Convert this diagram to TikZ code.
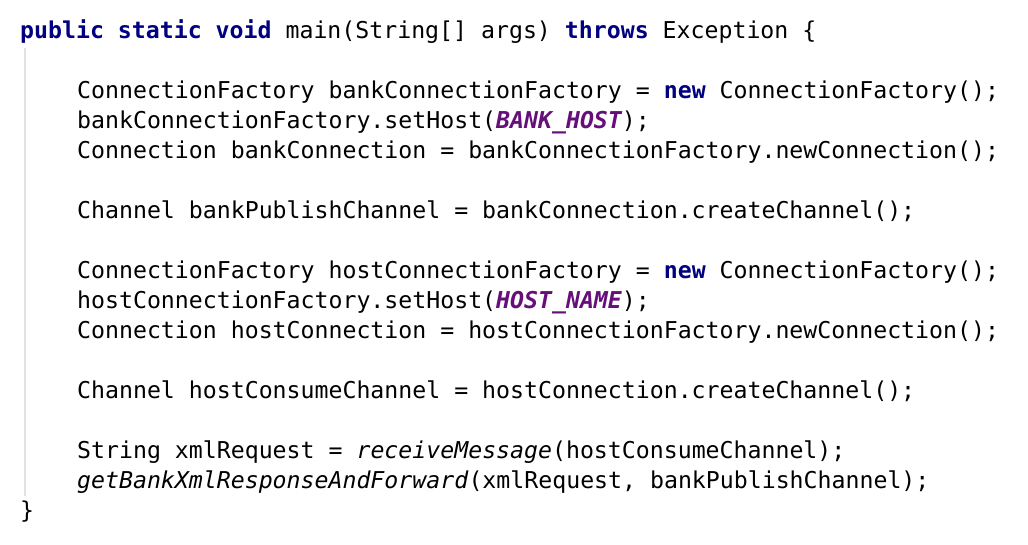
\documentclass[tikz,border=0pt]{standalone}
\usepackage{fontspec}
\setmonofont{DejaVu Sans Mono}
\definecolor{kwc}{RGB}{0,0,128}
\definecolor{cstc}{RGB}{102,14,122}
\definecolor{guidec}{RGB}{226,226,226}
\newcommand{\kwd}[1]{\textcolor{kwc}{\bfseries #1}}
\newcommand{\cst}[1]{\textcolor{cstc}{\bfseries\itshape #1}}
\newcommand{\mth}[1]{\textit{#1}}
\tikzset{code/.style={anchor=base west, inner sep=0pt, font=\ttfamily\fontsize{23.2}{28}\selectfont}}
\begin{document}
\begin{tikzpicture}[x=1pt,y=-1pt]
\useasboundingbox (0,0) rectangle (1028,544);
\fill[white] (0,0) rectangle (1028,544);
\coordinate (gtop) at (24.5,48);
\coordinate (gbot) at (24.5,496);
\draw[guidec, line width=2pt] (gtop) -- (gbot);
\node[code] (l1) at (20,38) {\kwd{public static void} main(String[] args) \kwd{throws} Exception \{};
\node[code] (l2) at (77,98) {ConnectionFactory bankConnectionFactory = \kwd{new} ConnectionFactory();};
\node[code] (l3) at (77,128) {bankConnectionFactory.setHost(\cst{BANK\_HOST});};
\node[code] (l4) at (77,158) {Connection bankConnection = bankConnectionFactory.newConnection();};
\node[code] (l5) at (77,218) {Channel bankPublishChannel = bankConnection.createChannel();};
\node[code] (l6) at (77,278) {ConnectionFactory hostConnectionFactory = \kwd{new} ConnectionFactory();};
\node[code] (l7) at (77,308) {hostConnectionFactory.setHost(\cst{HOST\_NAME});};
\node[code] (l8) at (77,338) {Connection hostConnection = hostConnectionFactory.newConnection();};
\node[code] (l9) at (77,398) {Channel hostConsumeChannel = hostConnection.createChannel();};
\node[code] (l10) at (77,458) {String xmlRequest = \mth{receiveMessage}(hostConsumeChannel);};
\node[code] (l11) at (77,488) {\mth{getBankXmlResponseAndForward}(xmlRequest, bankPublishChannel);};
\node[code] (l12) at (20,518) {\}};
\end{tikzpicture}
\end{document}
